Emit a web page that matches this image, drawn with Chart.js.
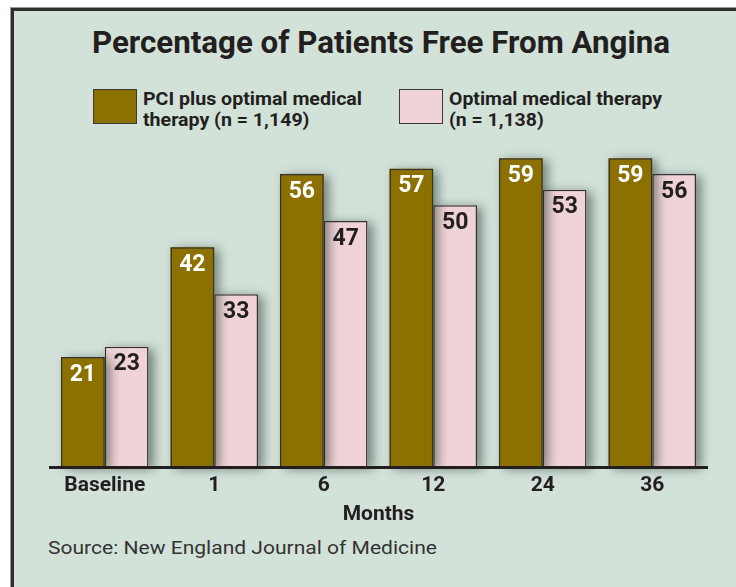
<!DOCTYPE html>
<html>
<head>
<meta charset="utf-8">
<script src="https://cdn.jsdelivr.net/npm/chart.js@4/dist/chart.umd.min.js"></script>
<style>
  html, body { margin:0; padding:0; background:#ffffff; }
  body { width:736px; height:587px; position:relative; overflow:hidden; }
  #frame { position:absolute; left:11px; top:8px; width:740px; height:600px;
    background:#d3e2d9; border-left:3px solid #2e2e2e; border-top:3px solid #2e2e2e;
    box-shadow:-1px -1px 0 #9a9a9a; }
  .t { position:absolute; font-family:Roboto, "Liberation Sans", sans-serif; color:#231f20; white-space:nowrap; display:inline-block; }
  #title { top:23px; font-size:32px; font-weight:bold; line-height:38px; transform-origin:left top; }
  .box { position:absolute; top:89px; width:42px; height:33px; border:1.5px solid #3a3a3a; }
  .ltext { top:88px; font-size:19px; font-weight:bold; line-height:21px; transform-origin:left top; }
  #source { left:48px; top:536px; font-size:19px; color:#333; transform-origin:left top; }
  canvas { position:absolute; left:0; top:0; }
</style>
</head>
<body>
<div id="frame"></div>
<div id="title" class="t" data-left="92" data-w="578">Percentage of Patients Free From Angina</div>
<div class="box" style="left:93px;background:#8c7000;"></div>
<div class="t ltext" data-left="143" data-w="219">PCI plus optimal medical<br>therapy (n = 1,149)</div>
<div class="box" style="left:399px;background:#f0d3d6;"></div>
<div class="t ltext" data-left="449" data-w="213">Optimal medical therapy<br>(n = 1,138)</div>
<div id="source" class="t" data-left="48" data-w="389">Source: New England Journal of Medicine</div>
<canvas id="c" width="736" height="587"></canvas>
<script>
const categories = ["Baseline", "1", "6", "12", "24", "36"];
const pciValues = [21, 42, 56, 57, 59, 59];
const omtValues = [23, 33, 47, 50, 53, 56];
const seriesNames = ["PCI plus optimal medical therapy (n = 1,149)", "Optimal medical therapy (n = 1,138)"];
const axisTitle = "Months";

// fit condensed-looking text blocks to their widths
document.querySelectorAll('.t').forEach(el => {
  const w = el.getBoundingClientRect().width;
  const target = parseFloat(el.dataset.w);
  el.style.left = el.dataset.left + 'px';
  el.style.transform = 'scaleX(' + (target / w) + ')';
});

const shadowPlugin = {
  id: 'barShadow',
  beforeDatasetDraw(chart, args) {
    const ctx = chart.ctx;
    const ds = chart.data.datasets[args.index];
    ctx.save();
    ctx.shadowColor = 'rgba(35,55,50,0.55)';
    ctx.shadowBlur = 10;
    ctx.shadowOffsetX = 5;
    ctx.shadowOffsetY = 2;
    ctx.fillStyle = ds.backgroundColor;
    args.meta.data.forEach(el => {
      const p = el.getProps(['x', 'y', 'base', 'width'], true);
      ctx.fillRect(p.x - p.width / 2, p.y, p.width, p.base - p.y);
    });
    ctx.restore();
  }
};

const labelPlugin = {
  id: 'valueLabels',
  afterDatasetsDraw(chart) {
    const ctx = chart.ctx;
    ctx.save();
    ctx.font = 'bold 23px Roboto, "Liberation Sans", sans-serif';
    ctx.textAlign = 'center';
    ctx.textBaseline = 'middle';
    chart.data.datasets.forEach((ds, di) => {
      const meta = chart.getDatasetMeta(di);
      ctx.fillStyle = di === 0 ? '#ffffff' : '#231f20';
      meta.data.forEach((bar, i) => {
        ctx.fillText(String(ds.data[i]), bar.x, bar.y + 18);
      });
    });
    ctx.restore();
  }
};

new Chart(document.getElementById('c'), {
  type: 'bar',
  data: {
    labels: categories,
    datasets: [
      { label: seriesNames[0], data: pciValues, backgroundColor: '#8c7000', borderColor: '#333333', borderWidth: 1.5, borderSkipped: 'bottom' },
      { label: seriesNames[1], data: omtValues, backgroundColor: '#f0d3d6', borderColor: '#333333', borderWidth: 1.5, borderSkipped: 'bottom' }
    ]
  },
  options: {
    responsive: false,
    devicePixelRatio: 1,
    animation: false,
    layout: { padding: { left: 50, right: 29, top: 153, bottom: 60 } },
    categoryPercentage: 0.8,
    barPercentage: 1.0,
    plugins: { legend: { display: false }, tooltip: { enabled: false }, title: { display: false } },
    scales: {
      y: { display: false, min: 0, max: 60 },
      x: {
        afterFit(s) { s.height = 60; },
        grid: { display: false, drawTicks: false },
        border: { display: true, color: '#231f20', width: 3, z: 1 },
        ticks: { color: '#231f20', padding: 6, font: { family: 'Roboto, "Liberation Sans", sans-serif', size: 21, weight: 'bold' } },
        title: { display: true, text: axisTitle, color: '#231f20', padding: 0, font: { family: 'Roboto, "Liberation Sans", sans-serif', size: 21, weight: 'bold' } }
      }
    }
  },
  plugins: [shadowPlugin, labelPlugin]
});
</script>
</body>
</html>
